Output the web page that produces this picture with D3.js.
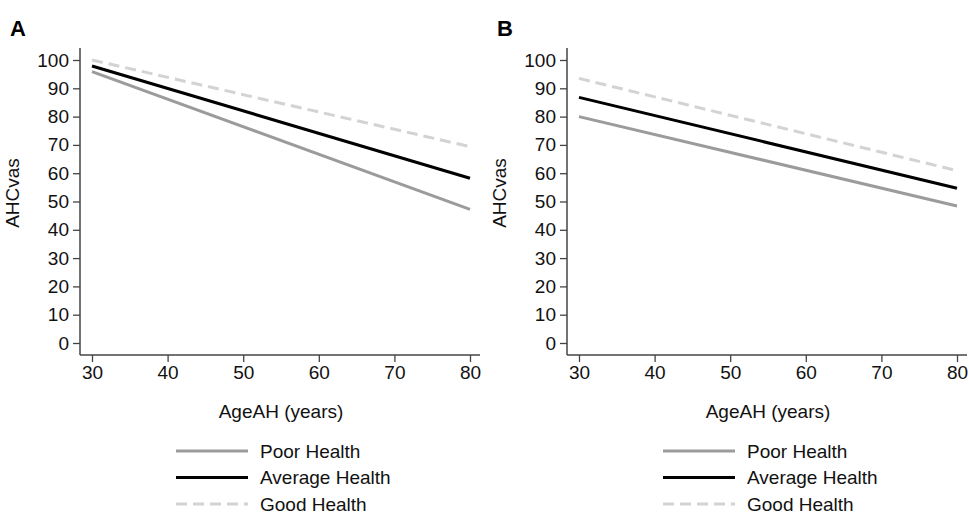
<!DOCTYPE html>
<html>
<head>
<meta charset="utf-8">
<script src="https://cdn.jsdelivr.net/npm/d3@7"></script>
<style>
  body { margin: 0; background: #fff; }
  svg { display: block; font-family: "Liberation Sans", Arial, sans-serif; }
</style>
</head>
<body>
<div id="chart"></div>
<script>
// ages at the ends of each fitted line
const ages = [30, 80];

// panel A
const poorA = [95.9, 47.2];
const avgA = [97.9, 58.2];
const goodA = [100, 69.4];

// panel B
const poorB = [80.0, 48.4];
const avgB = [86.8, 54.7];
const goodB = [93.5, 60.9];

const xTicks = [30, 40, 50, 60, 70, 80];
const yTicks = [0, 10, 20, 30, 40, 50, 60, 70, 80, 90, 100];
const seriesNames = ["Poor Health", "Average Health", "Good Health"];

const width = 969, height = 514;

const styles = [
  { color: "#9b9b9b", dash: null },
  { color: "#000000", dash: null },
  { color: "#d3d3d3", dash: "11,6" }
];

const svg = d3.select("#chart").append("svg")
  .attr("width", width)
  .attr("height", height);

function drawPanel(left, letter, series) {
  const g = svg.append("g");

  // scales: 30..80 sits a bit inside the axis line
  const xScale = d3.scaleLinear().domain([30, 80]).range([left + 12, left + 390]);
  const yScale = d3.scaleLinear().domain([0, 100]).range([343, 60]);
  const axisBottomY = 355, axisTopY = 48, axisRight = left + 400;

  // y axis
  const yAxis = g.append("g")
    .attr("transform", "translate(" + left + ",0)")
    .call(d3.axisLeft(yScale).tickValues(yTicks).tickSize(7).tickPadding(4));
  yAxis.select(".domain").remove();
  yAxis.append("line")
    .attr("x1", 0).attr("x2", 0)
    .attr("y1", axisTopY).attr("y2", axisBottomY)
    .attr("stroke", "#444").attr("stroke-width", 1.5);

  // x axis
  const xAxis = g.append("g")
    .attr("transform", "translate(0," + axisBottomY + ")")
    .call(d3.axisBottom(xScale).tickValues(xTicks).tickSize(7).tickPadding(4));
  xAxis.select(".domain").remove();
  xAxis.append("line")
    .attr("x1", left).attr("x2", axisRight)
    .attr("y1", 0).attr("y2", 0)
    .attr("stroke", "#444").attr("stroke-width", 1.5);

  g.selectAll(".tick line").attr("stroke", "#444").attr("stroke-width", 1.3);
  g.selectAll(".tick text")
    .attr("fill", "#111")
    .style("font-size", "19px")
    .style("font-family", "'Liberation Sans', Arial, sans-serif");

  // lines
  const line = d3.line()
    .x((d, i) => xScale(ages[i]))
    .y((d) => yScale(d));

  series.forEach((s, i) => {
    g.append("path")
      .datum(s)
      .attr("d", line)
      .attr("fill", "none")
      .attr("stroke", styles[i].color)
      .attr("stroke-width", 3)
      .attr("stroke-dasharray", styles[i].dash);
  });

  // axis titles
  g.append("text")
    .attr("x", left - 61)
    .attr("y", 193)
    .attr("transform", "rotate(-90," + (left - 61) + ",193)")
    .attr("text-anchor", "middle")
    .style("font-size", "19px")
    .attr("fill", "#111")
    .text("AHCvas");

  g.append("text")
    .attr("x", left + 201)
    .attr("y", 418)
    .attr("text-anchor", "middle")
    .style("font-size", "19px")
    .attr("fill", "#111")
    .text("AgeAH (years)");

  // panel letter
  g.append("text")
    .attr("x", left - 70)
    .attr("y", 36)
    .style("font-size", "22px")
    .style("font-weight", "bold")
    .attr("fill", "#000")
    .text(letter);

  // legend
  const legend = g.append("g");
  seriesNames.forEach((name, i) => {
    const ly = 451 + i * 26.5;
    legend.append("line")
      .attr("x1", left + 96).attr("x2", left + 168)
      .attr("y1", ly).attr("y2", ly)
      .attr("stroke", styles[i].color)
      .attr("stroke-width", 3)
      .attr("stroke-dasharray", styles[i].dash);
    legend.append("text")
      .attr("x", left + 180)
      .attr("y", ly + 6.5)
      .style("font-size", "19px")
      .attr("fill", "#111")
      .text(name);
  });
}

drawPanel(80, "A", [poorA, avgA, goodA]);
drawPanel(567, "B", [poorB, avgB, goodB]);
</script>
</body>
</html>
